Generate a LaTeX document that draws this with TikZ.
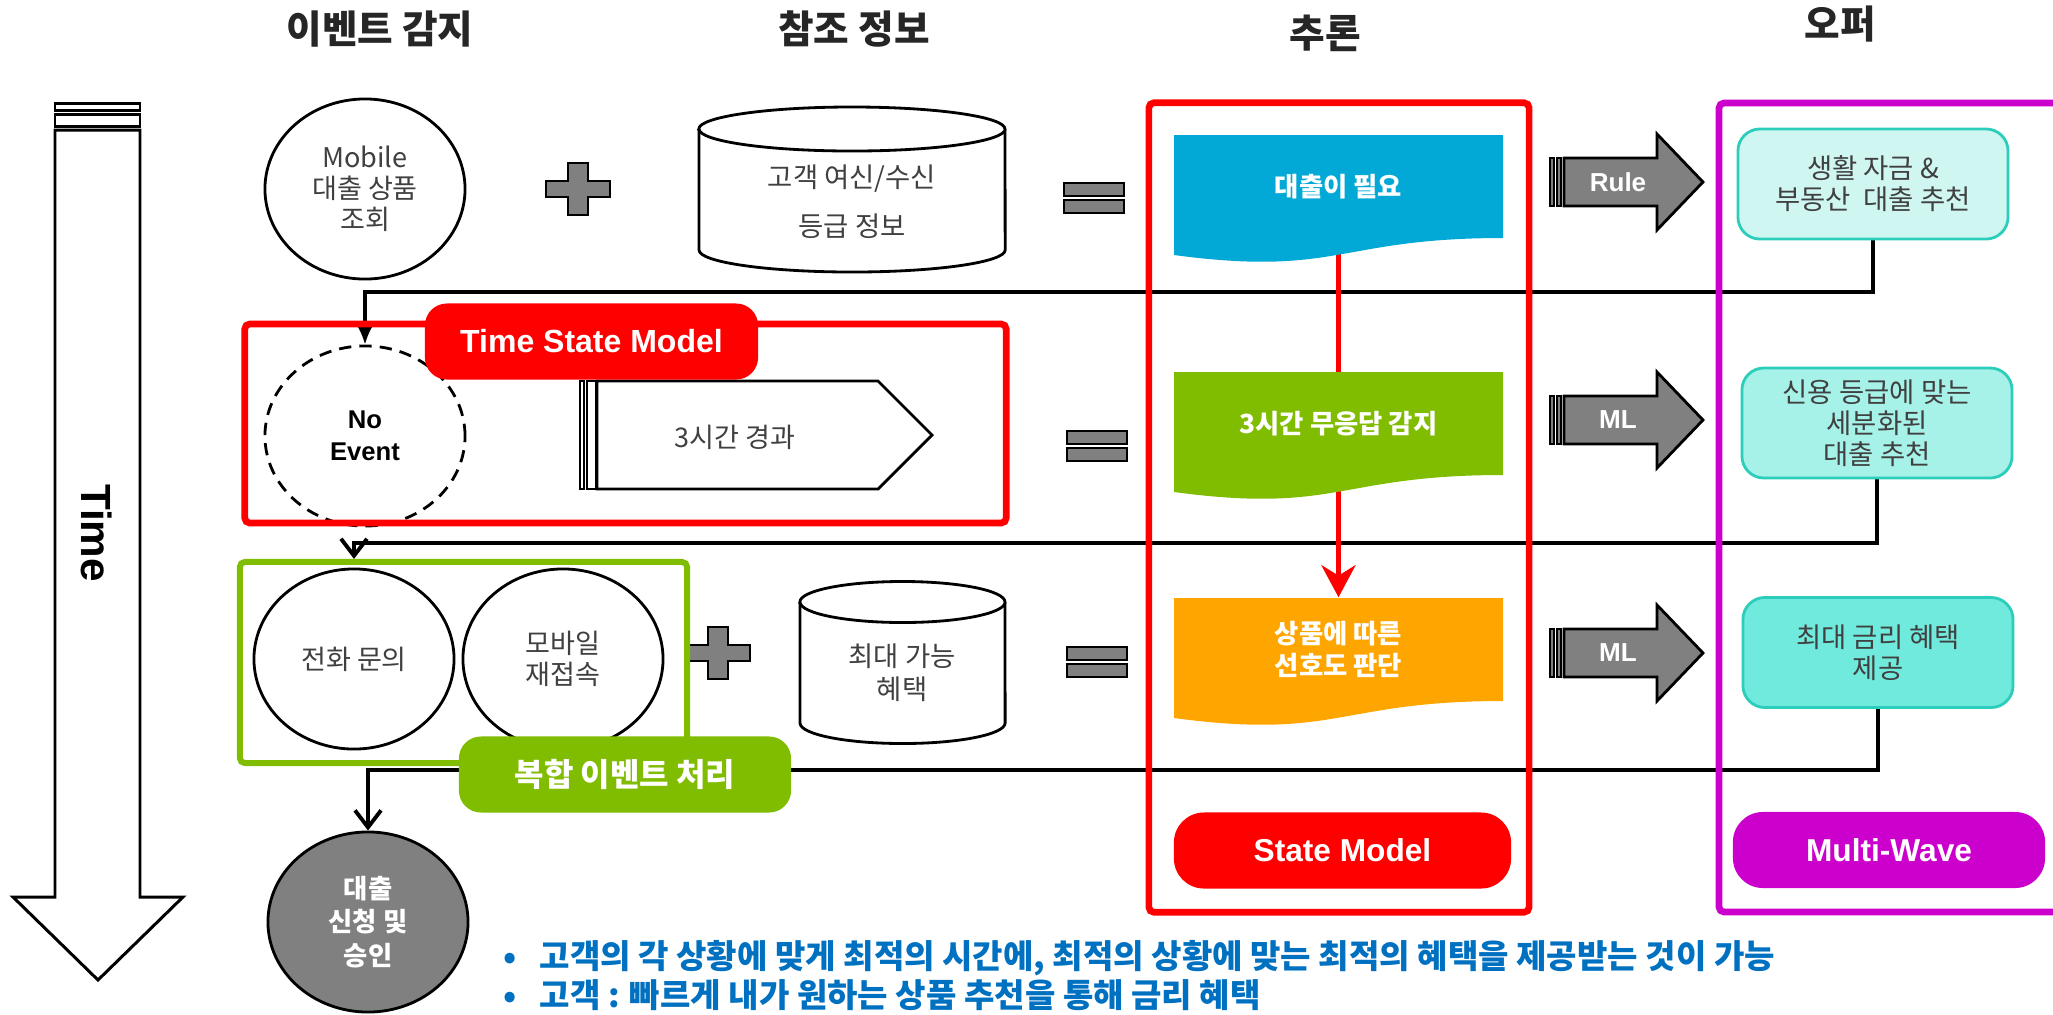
\documentclass[tikz,border=0pt]{standalone}
\usepackage{fontspec}
\setmainfont{Noto Sans CJK KR}
\newfontfamily\arialfont{Liberation Sans}
\usepackage{tikz}
\usetikzlibrary{shapes.geometric, arrows.meta, backgrounds}

\definecolor{txtgray}{HTML}{404040}
\definecolor{signgray}{HTML}{808080}
\definecolor{needblue}{HTML}{02A9D6}
\definecolor{waitgreen}{HTML}{80BC00}
\definecolor{preforange}{HTML}{FFA500}
\definecolor{framered}{HTML}{FF0000}
\definecolor{wavepink}{HTML}{CC00CC}
\definecolor{offerline}{HTML}{2CCDBA}
\definecolor{offerone}{HTML}{D0F6F2}
\definecolor{offertwo}{HTML}{A6F1E8}
\definecolor{offerthree}{HTML}{70EADC}
\definecolor{noteblue}{HTML}{0070C0}

\tikzset{
heading/.style={font=\fontsize{11pt}{12pt}\selectfont\bfseries, text=black!85}, % column headings
event/.style={ellipse, draw, thick, fill=white, minimum width=2cm, minimum height=1.8cm, inner sep=0pt, align=center, text=txtgray, font=\fontsize{7.7pt}{8.8pt}\selectfont}, % event ellipses
reftext/.style={align=center, text=txtgray, font=\fontsize{7.8pt}{9.4pt}\selectfont}, % text in the databases
dbline/.style={line width=0.8pt, fill=white}, % database outlines
opsign/.style={line width=0.8pt, draw=black, fill=signgray}, % plus and equal signs
bigarrow/.style={line width=0.8pt, draw=black, fill=signgray}, % Rule / ML arrows
arrowtag/.style={text=white, font=\arialfont\bfseries\fontsize{7.4pt}{9pt}\selectfont}, % text on the arrows
flowtext/.style={minimum width=3.29cm, minimum height=1.03cm, inner sep=0pt, align=center, text=white, font=\fontsize{7.5pt}{9.1pt}\selectfont\bfseries}, % inference steps
offer/.style={draw=offerline, line width=0.8pt, rounded corners=0.22cm, minimum width=2.7cm, minimum height=1.1cm, inner sep=0pt, align=center, text=txtgray, font=\fontsize{7.8pt}{8.8pt}\selectfont}, % offer boxes
tagbox/.style={inner sep=0pt, text=white, rounded corners=0.22cm, minimum height=0.76cm}, % coloured labels
boxframe/.style={line width=1.9pt, inner sep=0pt, rounded corners=0.05cm}, % group frames
feed/.style={line width=1.1pt, draw=black}, % feedback connectors
flowline/.style={draw=framered, line width=1.6pt, -{Stealth[length=0.32cm, width=0.34cm]}}, % red flow arrow
note/.style={inner sep=0pt, anchor=west, text=noteblue, font=\fontsize{9.4pt}{11pt}\selectfont\bfseries}, % bullet lines
}

\begin{document}
\begin{tikzpicture}[x=0.01cm, y=-0.01cm]
\useasboundingbox (0,0) rectangle (2053,1014);

% headings
\node[heading] (hevent) at (380,29) {이벤트 감지};
\node[heading] (href) at (854,29) {참조 정보};
\node[heading] (hinfer) at (1325,33) {추론};
\node[heading] (hoffer) at (1840,24) {오퍼};

% time arrow
\draw[line width=0.85pt] (55,103) rectangle (140,110) (55,114) rectangle (140,126);
\draw[line width=0.85pt] (55,130) -- (55,897) -- (13,897) -- (98,980) -- (183,897) -- (140,897) -- (140,130) -- cycle;
\node[rotate=-90, font=\arialfont\bfseries\fontsize{12pt}{14pt}\selectfont] (time) at (97,533) {Time};

% events
\node[event] (mobile) at (365,189) {Mobile\\대출 상품\\조회};
\node[event, dash pattern=on 3.5pt off 2.3pt, text=black, font=\arialfont\bfseries\fontsize{7.3pt}{9pt}\selectfont] (noevent) at (365,436) {No\\Event};
\node[event] (call) at (354,659) {전화 문의};
\node[event] (remob) at (563,659) {모바일\\재접속};
\node[event, fill=signgray, text=white, font=\fontsize{7.5pt}{9.6pt}\selectfont\bfseries] (apply) at (368,922) {대출\\신청 및\\승인};

% databases
\filldraw[dbline] (699,129) -- (699,250) arc[start angle=180, end angle=360, x radius=1.53cm, y radius=0.22cm] -- (1005,129) arc[start angle=0, end angle=180, x radius=1.53cm, y radius=0.22cm] -- cycle;
\draw[dbline] (699,129) arc[start angle=180, end angle=360, x radius=1.53cm, y radius=0.22cm];
\node[reftext] (grade) at (852,202) {고객 여신/수신\\[4.6pt]등급 정보};
\filldraw[dbline] (800,602) -- (800,723) arc[start angle=180, end angle=360, x radius=1.025cm, y radius=0.205cm] -- (1005,602) arc[start angle=0, end angle=180, x radius=1.025cm, y radius=0.205cm] -- cycle;
\draw[dbline] (800,602) arc[start angle=180, end angle=360, x radius=1.025cm, y radius=0.205cm];
\node[reftext] (benefit) at (902,673) {최대 가능\\혜택};

% plus and equal signs
\foreach \x/\y in {578/189, 718/653}
  \filldraw[opsign, shift={(\x,\y)}] (-32,-8) -- (-10,-8) -- (-10,-26) -- (10,-26) -- (10,-8) -- (32,-8) -- (32,8) -- (10,8) -- (10,26) -- (-10,26) -- (-10,8) -- (-32,8) -- cycle;
\foreach \x/\y in {1094/198, 1097/446, 1097/662}
  \filldraw[opsign, shift={(\x,\y)}] (-30,-15) rectangle (30,-2) (-30,2) rectangle (30,15);

% three hours elapsed
\draw[line width=0.8pt] (580,381) rectangle (584,489) (587,381) rectangle (596,489);
\draw[line width=0.8pt] (597,381) -- (878,381) -- (932,435) -- (878,489) -- (597,489) -- cycle;
\node[reftext, font=\fontsize{7.7pt}{9pt}\selectfont] (elapsed) at (735,437) {3시간 경과};

% frames on the left
\node[boxframe, draw=framered, minimum width=7.61cm, minimum height=1.99cm] (tsm) at (625.5,423.5) {};
\node[tagbox, fill=framered, minimum width=3.33cm, font=\arialfont\bfseries\fontsize{9.1pt}{10pt}\selectfont] (tsmtag) at (591.5,341.5) {Time State Model};
\node[boxframe, draw=waitgreen, line width=1.7pt, minimum width=4.47cm, minimum height=2.01cm] (combo) at (463.5,662.5) {};
\node[tagbox, fill=waitgreen, minimum width=3.32cm, font=\fontsize{9.1pt}{10pt}\selectfont\bfseries] (combotag) at (625,774.5) {복합 이벤트 처리};

% inference
\foreach \y/\col in {135/needblue, 372/waitgreen, 598/preforange}
  \fill[\col] (1174,\y) -- (1503,\y) -- (1503,\y+103) .. controls (1338,\y+103) and (1338,\y+142) .. (1174,\y+120) -- cycle;
\node[flowtext] (need) at (1338.5,186.5) {대출이 필요};
\node[flowtext] (wait) at (1338.5,423.5) {3시간 무응답 감지};
\node[flowtext] (pref) at (1338.5,649.5) {상품에 따른\\선호도 판단};
\node[boxframe, draw=framered, minimum width=3.8cm, minimum height=8.09cm] (inferframe) at (1339,507.5) {};
\node[tagbox, fill=framered, minimum width=3.37cm, rounded corners=0.3cm, font=\arialfont\bfseries\fontsize{9pt}{10pt}\selectfont] (infertag) at (1342.5,850.5) {State Model};

% rule / ml arrows
\foreach \c/\t [count=\i] in {182/Rule, 420/ML, 653/ML} {
  \filldraw[bigarrow] (1550,\c-24) rectangle (1554,\c+24) (1557,\c-24) rectangle (1561,\c+24);
  \filldraw[bigarrow] (1564,\c-24) -- (1657,\c-24) -- (1657,\c-48) -- (1703,\c) -- (1657,\c+48) -- (1657,\c+24) -- (1564,\c+24) -- cycle;
  \node[arrowtag] (how\i) at (1618,\c) {\t};
}

% offers
\draw[boxframe, draw=wavepink] (2053,103) -| (1719,912) -- (2053,912);
\node[offer, fill=offerone] (offer1) at (1873,184) {생활 자금 \&\\부동산\ \ 대출 추천};
\node[offer, fill=offertwo] (offer2) at (1877,423) {신용 등급에 맞는\\세분화된\\대출 추천};
\node[offer, fill=offerthree] (offer3) at (1878,652.5) {최대 금리 혜택\\제공};
\node[tagbox, fill=wavepink, minimum width=3.12cm, rounded corners=0.3cm, font=\arialfont\bfseries\fontsize{9pt}{10pt}\selectfont] (wavetag) at (1889,850) {Multi-Wave};

% connectors
\coordinate (turn1) at (365,292);
\coordinate (turn2) at (354,543);
\coordinate (turn3) at (368,770);
\begin{scope}[on background layer]
  \draw[feed, -{Latex[length=0.22cm, width=0.2cm]}] (offer1.south) |- (turn1) -- (noevent.north);
  \draw[feed, -{Straight Barb[length=0.17cm, width=0.26cm]}] (offer2.south) |- (turn2) -- (turn2 |- combo.north);
  \draw[feed, -{Straight Barb[length=0.17cm, width=0.26cm]}] (offer3.south) |- (turn3) -- (apply.north);
  \draw[flowline] (need.south) -- (pref.north);
\end{scope}

% notes
\node[note] (note1) at (503,958) {\makebox[0.36cm][l]{•}고객의 각 상황에 맞게 최적의 시간에, 최적의 상황에 맞는 최적의 혜택을 제공받는 것이 가능};
\node[note] (note2) at (503,995) {\makebox[0.36cm][l]{•}고객 : 빠르게 내가 원하는 상품 추천을 통해 금리 혜택};
\end{tikzpicture}
\end{document}
